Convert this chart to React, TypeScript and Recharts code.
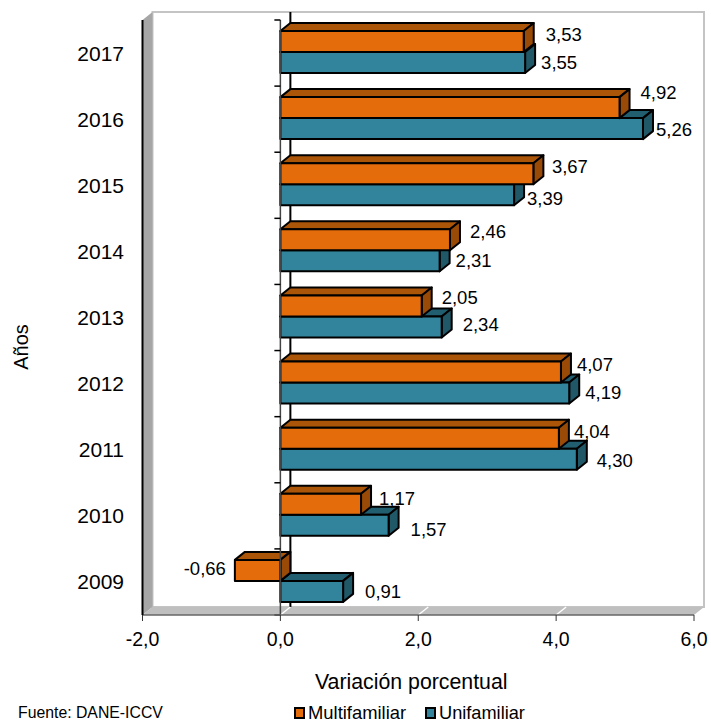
import React from 'react';
import { BarChart, Bar, XAxis, YAxis, ReferenceLine, Customized } from 'recharts';

const years = ['2017', '2016', '2015', '2014', '2013', '2012', '2011', '2010', '2009'];
const multifamiliar = [3.53, 4.92, 3.67, 2.46, 2.05, 4.07, 4.04, 1.17, -0.66];
const unifamiliar = [3.55, 5.26, 3.39, 2.31, 2.34, 4.19, 4.3, 1.57, 0.91];
const xTicks = [-2, 0, 2, 4, 6];
const floorGridValues = [2, 4];

const data = years.map((year, i) => ({ year, multifamiliar: multifamiliar[i], unifamiliar: unifamiliar[i] }));

// layout
const W = 711, H = 723;
const LEFT = 142.5, RIGHT = 694, TOP = 20, BOTTOM = 615;
const DX = 10, DY = 8;
const FONT = '"Liberation Sans", Arial, sans-serif';
const ORANGE = { front: '#E46C0A', top: '#AA5508', side: '#994A06' };
const BLUE = { front: '#31849B', top: '#215F70', side: '#215868' };
const sx = (v: number) => LEFT + ((v + 2) / 8) * (RIGHT - LEFT);

// hand placement of the value labels, relative to the end of each 3-D bar
const orangeNudge = [[12, -6.5], [11, -15.5], [8.5, -7], [10, -8], [10, -8], [6, -8], [5, -7], [8, -6], [-9, -2]];
const blueNudge = [[6, 0], [3, 1], [3, 4], [6, 0], [11, -2], [6, -1], [10, 1], [12, 4], [12, 0]];

const fmt = (v: number, d: number) => v.toFixed(d).replace('.', ',');

function makeShape(colors: typeof ORANGE, slotShift: number, nudge: number[][]) {
  return function Shape(props: any) {
    const { x, y, width, height, index, value } = props;
    const v = Array.isArray(value) ? value[1] : value;
    const neg = multifamiliar[index] < 0 && colors === ORANGE;
    const l = Math.min(x, x + width);
    const r = Math.max(x, x + width);
    const t = y + slotShift * height - 1;
    const b = t + height;
    const [nx, ny] = nudge[index];
    return (
      <g stroke="#000" strokeWidth={2} strokeLinejoin="round">
        <polygon points={`${l},${t} ${l + DX},${t - DY} ${r + DX},${t - DY} ${r},${t}`} fill={colors.top} />
        <polygon points={`${r},${t} ${r + DX},${t - DY} ${r + DX},${b - DY} ${r},${b}`} fill={colors.side} />
        <rect x={l} y={t} width={r - l} height={height} fill={colors.front} />
        <text
          x={neg ? l + nx : r + DX + nx}
          y={(t + b) / 2 + ny}
          dy="0.35em"
          textAnchor={neg ? 'end' : 'start'}
          stroke="none"
          fill="#000"
          fontFamily={FONT}
          fontSize={18.5}
        >
          {fmt(v, 2)}
        </text>
      </g>
    );
  };
}

const OrangeShape = makeShape(ORANGE, -1, orangeNudge);
const BlueShape = makeShape(BLUE, 1, blueNudge);

function Walls() {
  const wallTop = TOP - DY, wallBottom = BOTTOM - DY;
  return (
    <g>
      <rect x={LEFT + DX} y={wallTop} width={RIGHT - LEFT} height={wallBottom - wallTop} fill="#fff" stroke="#C4C4C4" strokeWidth={2} />
      <polygon points={`${LEFT},${TOP} ${LEFT + DX},${wallTop} ${LEFT + DX},${wallBottom} ${LEFT},${BOTTOM}`} fill="#A6A6A6" />
      <polygon points={`${LEFT},${BOTTOM} ${LEFT + DX},${wallBottom} ${RIGHT + DX},${wallBottom} ${RIGHT},${BOTTOM}`} fill="#BFBFBF" />
      {floorGridValues.map((v) => (
        <line key={v} x1={sx(v)} y1={BOTTOM} x2={sx(v) + DX} y2={wallBottom} stroke="#fff" strokeWidth={1.5} />
      ))}
      <line x1={sx(0) + DX} x2={sx(0) + DX} y1={wallTop} y2={wallBottom} stroke="#000" strokeWidth={2} />
      <line x1={sx(0)} x2={sx(0) + DX} y1={BOTTOM} y2={wallBottom} stroke="#fff" strokeWidth={1.5} />
    </g>
  );
}

function Footer() {
  const row = 713;
  const common = { fontFamily: FONT, fill: '#000' };
  return (
    <g>
      <text x={18} y={row + 5} fontSize={15.8} {...common}>Fuente: DANE-ICCV</text>
      <rect x={295} y={708} width={9} height={10} fill={ORANGE.front} stroke="#000" strokeWidth={2} />
      <text x={308} y={row + 6} fontSize={18.4} {...common}>Multifamiliar</text>
      <rect x={426} y={708} width={9} height={10} fill={BLUE.front} stroke="#000" strokeWidth={2} />
      <text x={439} y={row + 6} fontSize={18.2} {...common}>Unifamiliar</text>
      <text x={0} y={0} transform="translate(28,347) rotate(-90)" textAnchor="middle" fontSize={20} {...common}>Años</text>
    </g>
  );
}

function ZeroAxis(props: any) {
  const { x1, y1, y2 } = props;
  const step = (y2 - y1) / years.length;
  return (
    <g>
      <line x1={x1} x2={x1} y1={y1} y2={y2} stroke="#444" strokeWidth={1.5} />
      {[...years, ''].map((_, i) => (
        <line key={i} x1={x1 - 6} x2={x1} y1={y1 + i * step} y2={y1 + i * step} stroke="#000" strokeWidth={1.5} />
      ))}
    </g>
  );
}

export default function App() {
  return (
    <div style={{ position: 'absolute', left: 0, top: 0, width: W, height: H }}>
      <BarChart
        width={W}
        height={H}
        data={data}
        layout="vertical"
        barSize={21}
        barGap={0}
        margin={{ top: TOP, right: W - RIGHT, bottom: 0, left: 0 }}
      >
        <Customized component={Walls} />
        <XAxis
          type="number"
          domain={[-2, 6]}
          ticks={xTicks}
          tickFormatter={(v: number) => fmt(v, 1)}
          height={H - BOTTOM}
          tick={{ fontFamily: FONT, fontSize: 19.5, fill: '#000' }}
          tickSize={6}
          tickMargin={11}
          axisLine={{ stroke: '#666', strokeWidth: 1.5 }}
          tickLine={{ stroke: '#333' }}
          label={{ value: 'Variación porcentual', position: 'insideBottom', offset: 34, dx: -7, style: { fontFamily: FONT, fontSize: 21.3, fill: '#000' } }}
        />
        <YAxis
          type="category"
          dataKey="year"
          width={LEFT}
          tick={{ fontFamily: FONT, fontSize: 21, fill: '#000' }}
          tickLine={false}
          tickMargin={12.5}
          axisLine={{ stroke: '#000', strokeWidth: 2 }}
        />
        <Bar dataKey="unifamiliar" shape={BlueShape} isAnimationActive={false} />
        <Bar dataKey="multifamiliar" shape={OrangeShape} isAnimationActive={false} />
        <ReferenceLine x={0} shape={ZeroAxis} />
        <Customized component={Footer} />
      </BarChart>
    </div>
  );
}
